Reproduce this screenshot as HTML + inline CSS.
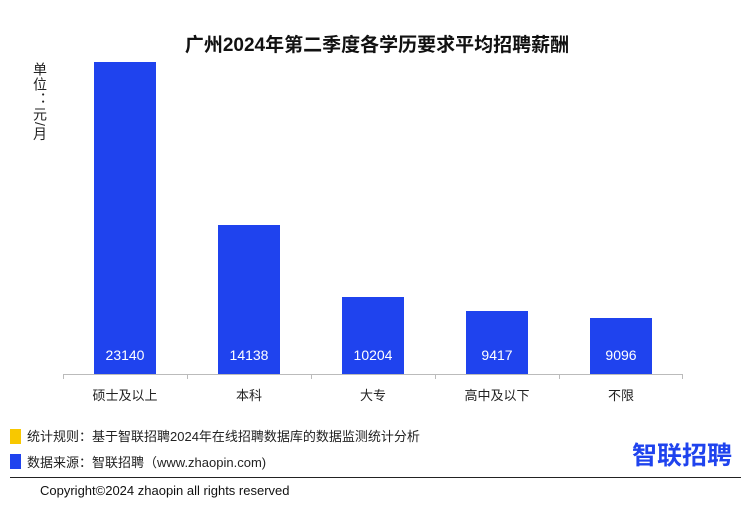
<!DOCTYPE html>
<html><head><meta charset="utf-8"><style>
body{margin:0;width:754px;height:515px;background:#fff;position:relative;overflow:hidden;font-family:"Liberation Sans","Noto Sans CJK SC",sans-serif;}
.a{position:absolute;white-space:nowrap}
.bar{position:absolute;background:#1f43ee;width:62px;bottom:141px}
.v{position:absolute;bottom:11px;width:100%;text-align:center;color:#fff;font-size:14px}
.c{position:absolute;top:385px;width:124px;text-align:center;font-size:13px;color:#222}
.t{position:absolute;top:374px;width:1px;height:5px;background:#bbb}
</style></head><body>
<div class="a" style="left:0;width:754px;text-align:center;top:30px;font-size:19px;font-weight:bold;color:#111">广州2024年第二季度各学历要求平均招聘薪酬</div>
<div class="a" style="left:30px;top:62px;writing-mode:vertical-rl;font-size:14px;letter-spacing:1px;color:#222">单位：元/月</div>
<div class="bar" style="left:94px;top:62px"><div class="v">23140</div></div>
<div class="bar" style="left:218px;top:225px"><div class="v">14138</div></div>
<div class="bar" style="left:342px;top:297px"><div class="v">10204</div></div>
<div class="bar" style="left:466px;top:311px"><div class="v">9417</div></div>
<div class="bar" style="left:590px;top:318px"><div class="v">9096</div></div>
<div class="a" style="left:63px;top:374px;width:620px;height:1px;background:#bbb"></div>
<div class="t" style="left:63px"></div><div class="t" style="left:187px"></div><div class="t" style="left:311px"></div><div class="t" style="left:435px"></div><div class="t" style="left:559px"></div><div class="t" style="left:682px"></div>
<div class="c" style="left:63px">硕士及以上</div>
<div class="c" style="left:187px">本科</div>
<div class="c" style="left:311px">大专</div>
<div class="c" style="left:435px">高中及以下</div>
<div class="c" style="left:559px">不限</div>
<div class="a" style="left:10px;top:429px;width:11px;height:15px;background:#f8c800"></div>
<div class="a" style="left:10px;top:454px;width:11px;height:15px;background:#1f43ee"></div>
<div class="a" style="left:27px;top:426px;font-size:13px;color:#222">统计规则：基于智联招聘2024年在线招聘数据库的数据监测统计分析</div>
<div class="a" style="left:27px;top:452px;font-size:13px;color:#222">数据来源：智联招聘（www.zhaopin.com)</div>
<div class="a" style="left:632px;top:436px;font-size:25px;font-weight:bold;color:#1f43ee">智联招聘</div>
<div class="a" style="left:10px;top:477px;width:731px;height:1px;background:#222"></div>
<div class="a" style="left:40px;top:483px;font-size:13px;color:#111">Copyright©2024 zhaopin all rights reserved</div>
</body></html>
